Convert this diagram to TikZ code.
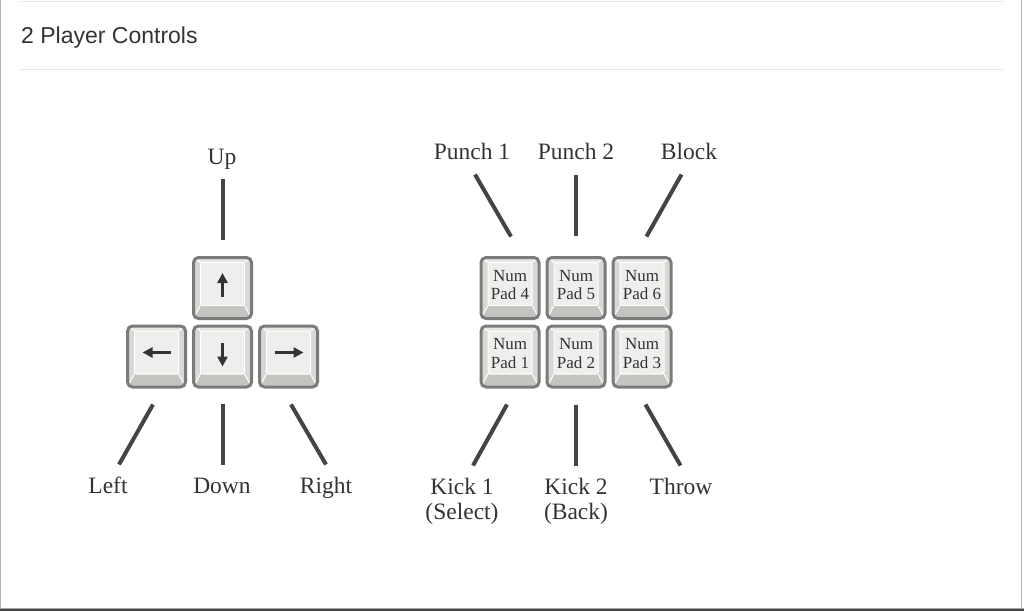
\documentclass[tikz,border=0pt]{standalone}
\usepackage{fontspec}
\setmainfont{Liberation Serif}
\newfontfamily\headfont{Liberation Sans}
\usetikzlibrary{calc,positioning,arrows.meta}
\definecolor{ink}{HTML}{333333}
\definecolor{leadgray}{HTML}{444444}
\definecolor{rim}{HTML}{7B7B7B}
\definecolor{keyside}{HTML}{D8D8D4}
\definecolor{keytop}{HTML}{E6E6E3}
\definecolor{keybot}{HTML}{C4C4C0}
\definecolor{keyface}{HTML}{EEEEEC}
\definecolor{rule}{HTML}{E6E6E6}
\begin{document}
\begin{tikzpicture}[x=1pt, y=-1pt, node distance=5pt,
    keycap/.style={draw=rim, line width=3pt, rounded corners=5pt, fill=keyside,
        minimum width=58pt, minimum height=61pt, inner sep=0pt,
        path picture={
            \coordinate (fa) at ($(path picture bounding box.north west)+(7,5)$);
            \coordinate (fb) at ($(path picture bounding box.north east)+(-7,5)$);
            \coordinate (fc) at ($(path picture bounding box.south east)+(-7,-13)$);
            \coordinate (fd) at ($(path picture bounding box.south west)+(7,-13)$);
            \fill[keytop, sharp corners] (path picture bounding box.north west) -- (path picture bounding box.north east) -- (fb) -- (fa) -- cycle;
            \fill[keybot, sharp corners] (path picture bounding box.south west) -- (path picture bounding box.south east) -- (fc) -- (fd) -- cycle;
            \draw[white, line width=1pt, sharp corners] (path picture bounding box.north west) -- (fa)
                (path picture bounding box.north east) -- (fb)
                (path picture bounding box.south east) -- (fc)
                (path picture bounding box.south west) -- (fd);
            \filldraw[fill=keyface, draw=white, line width=1pt, rounded corners=2pt] (fa) rectangle (fc);
        }},
    keytext/.style={text=ink, font=\fontsize{17}{18.5}\selectfont, align=center, inner sep=0pt, yshift=3pt},
    keyarrow/.style={draw=ink, line width=2.5pt, -{Triangle[length=10pt,width=10pt]}},
    lead/.style={draw=leadgray, line width=4pt},
    lbl/.style={text=ink, font=\fontsize{23.5}{25}\selectfont, align=center, inner sep=0pt, anchor=base}]
    \useasboundingbox (0,0) rectangle (1024,611);

    % frame and header
    \draw[black!30, line width=1pt] (0.5,0) -- (0.5,608) (1021.5,0) -- (1021.5,608);
    \draw[black!35, line width=1pt] (0,608) -- (1024,608);
    \fill[leadgray] (0,609) rectangle (1024,611);
    \draw[rule, line width=1.5pt] (20,1.5) -- (1003,1.5);
    \draw[rule, line width=1pt] (20,69.5) -- (1003,69.5);
    \node (title) [anchor=base west, inner sep=0pt, text=ink, font=\headfont\fontsize{23}{26}\selectfont] at (21,43) {2 Player Controls};

    % arrow keys
    \node (kdown) [keycap] at (222.5,356.5) {};
    \node (kup) [keycap, above=4.5pt of kdown] {};
    \node (kleft) [keycap, left=of kdown] {};
    \node (kright) [keycap, right=of kdown] {};
    \draw[keyarrow] ($(kup.center)+(0,9)$) -- ($(kup.center)+(0,-15)$);
    \draw[keyarrow] ($(kdown.center)+(0,-14)$) -- ($(kdown.center)+(0,10)$);
    \draw[keyarrow] ($(kleft.center)+(14,-4)$) -- ($(kleft.center)+(-14,-4)$);
    \draw[keyarrow] ($(kright.center)+(-14,-4)$) -- ($(kright.center)+(15,-4)$);

    % number pad keys
    \node (np1) [keycap] at (510,356.5) {};
    \node (np2) [keycap, right=of np1] {};
    \node (np3) [keycap, right=of np2] {};
    \node (np4) [keycap, above=4.5pt of np1] {};
    \node (np5) [keycap, right=of np4] {};
    \node (np6) [keycap, right=of np5] {};
    \foreach \k in {1,...,6}
        \node (np\k text) [keytext] at (np\k) {Num\\Pad \k};

    % labels
    \node (up) [lbl] at (222,164) {Up};
    \node (left) [lbl] at (108,493) {Left};
    \node (down) [lbl] at (222,493) {Down};
    \node (right) [lbl] at (326,493) {Right};
    \node (punch1) [lbl] at (472,159) {Punch 1};
    \node (punch2) [lbl] at (576,159) {Punch 2};
    \node (block) [lbl] at (689,159) {Block};
    \node (kick1) [lbl, anchor=north] at (462,478) {Kick 1\\(Select)};
    \node (kick2) [lbl, anchor=north] at (576,478) {Kick 2\\(Back)};
    \node (throw) [lbl] at (681,494) {Throw};

    % lead lines
    \draw[lead] ($(kup.north)+(0,-16.5)$) -- ++(0,-61);
    \draw[lead] ($(kdown.south)+(0,15)$) -- ++(0,61);
    \draw[lead] ($(kleft.south)+(-3.5,16)$) -- ++(-34,60);
    \draw[lead] ($(kright.south)+(2.5,16)$) -- ++(35,60);
    \draw[lead] ($(np4.north)+(1,-19.5)$) -- ++(-36,-62);
    \draw[lead] ($(np5.north)+(0,-20.5)$) -- ++(0,-61);
    \draw[lead] ($(np6.north)+(4.5,-19.5)$) -- ++(35,-62);
    \draw[lead] ($(np1.south)+(-3,16)$) -- ++(-34,61);
    \draw[lead] ($(np2.south)+(0,16)$) -- ++(0,61);
    \draw[lead] ($(np3.south)+(3.5,16)$) -- ++(35,61);
\end{tikzpicture}
\end{document}
